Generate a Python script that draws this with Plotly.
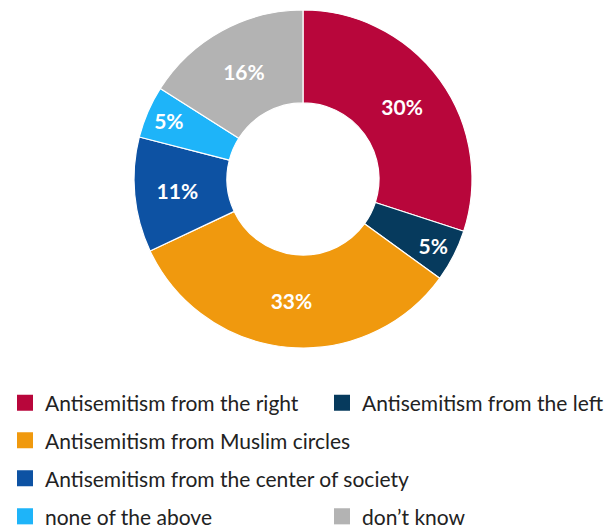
import plotly.graph_objects as go

# Survey answers, clockwise from 12 o'clock
categories = [
    "Antisemitism from the right",
    "Antisemitism from the left",
    "Antisemitism from Muslim circles",
    "Antisemitism from the center of society",
    "none of the above",
    "don\u2019t know",
]
shares = [30, 5, 33, 11, 5, 16]
colors = ["#B8063B", "#063A5D", "#F0990E", "#0D52A3", "#1EB4F9", "#B3B3B3"]

W, H = 614, 528
cx, cy, R = 303, 179, 169

fig = go.Figure()
fig.add_trace(go.Pie(
    labels=categories,
    values=shares,
    sort=False,
    direction="clockwise",
    rotation=0,
    hole=0.45,
    marker=dict(colors=colors, line=dict(color="white", width=1.2)),
    texttemplate="%{value}%",
    textposition="inside",
    insidetextorientation="horizontal",
    insidetextfont=dict(family="Lato", size=21, color="white", weight=700),
    showlegend=False,
    hoverinfo="label+value",
    domain=dict(x=[(cx - R) / W, (cx + R) / W],
                y=[(H - cy - R) / H, (H - cy + R) / H]),
))

# one legend per entry so the entries sit in two loose columns
legend_ids = ["legend", "legend2", "legend3", "legend4", "legend5", "legend6"]
for name, col, lg in zip(categories, colors, legend_ids):
    fig.add_trace(go.Scatter(
        x=[None], y=[None], mode="markers", name=name,
        marker=dict(symbol="square", size=16, color=col),
        legend=lg, showlegend=True, hoverinfo="skip",
    ))

legend_font = dict(family="Lato", size=21, color="#222222")
row_mid = [403.0, 440.7, 478.7, 516.7]
col_x = [5, 322]
# (column, row) of each legend entry
placement = [(0, 0), (1, 0), (0, 1), (0, 2), (0, 3), (1, 3)]

legends = {}
for lg, (c, r) in zip(legend_ids, placement):
    legends[lg] = dict(
        orientation="h", x=col_x[c] / W, xanchor="left",
        y=(H - row_mid[r]) / H, yanchor="middle",
        font=legend_font, bgcolor="rgba(0,0,0,0)",
        itemclick=False, itemdoubleclick=False,
    )

fig.update_layout(
    width=W, height=H,
    margin=dict(l=0, r=0, t=0, b=0, autoexpand=False),
    paper_bgcolor="white", plot_bgcolor="white",
    xaxis=dict(visible=False), yaxis=dict(visible=False),
    uniformtext=dict(minsize=21, mode="show"),
    **legends,
)

fig.write_html("out.html")
